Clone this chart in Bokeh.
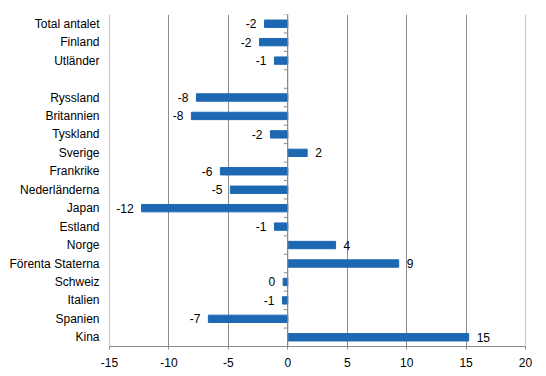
from bokeh.plotting import figure
from bokeh.models import ColumnDataSource, FixedTicker, Span, Range1d
from bokeh.embed import file_html
from bokeh.resources import INLINE

categories = ["Total antalet", "Finland", "Utländer", "", "Ryssland", "Britannien",
              "Tyskland", "Sverige", "Frankrike", "Nederländerna", "Japan", "Estland",
              "Norge", "Förenta Staterna", "Schweiz", "Italien", "Spanien", "Kina"]
values = [-1.96, -2.38, -1.12, None, -7.69, -8.11, -1.46, 1.63, -5.67, -4.83,
          -12.3, -1.12, 4.02, 9.33, -0.39, -0.45, -6.68, 15.22]
labels = ["-2", "-2", "-1", "", "-8", "-8", "-2", "2", "-6", "-5",
          "-12", "-1", "4", "9", "0", "-1", "-7", "15"]
x_ticks = [-15, -10, -5, 0, 5, 10, 15, 20]

BAR = "#1c68b2"
GRID = "#8c8c8c"
FONT = "Liberation Sans"

n = len(categories)
ys = [n - i - 0.5 for i in range(n)]

rows = [(y, v, l) for y, v, l in zip(ys, values, labels) if v is not None]
bars = ColumnDataSource(dict(y=[r[0] for r in rows], v=[r[1] for r in rows]))
neg = ColumnDataSource(dict(y=[r[0] for r in rows if r[1] < 0],
                            v=[r[1] for r in rows if r[1] < 0],
                            t=[r[2] for r in rows if r[1] < 0]))
pos = ColumnDataSource(dict(y=[r[0] for r in rows if r[1] >= 0],
                            v=[r[1] for r in rows if r[1] >= 0],
                            t=[r[2] for r in rows if r[1] >= 0]))

p = figure(width=538, height=371, output_backend="svg", toolbar_location=None,
           x_range=Range1d(x_ticks[0], x_ticks[-1]), y_range=Range1d(0, n),
           min_border_left=109, min_border_right=13, min_border_top=14,
           min_border_bottom=25)
p.outline_line_color = None
p.background_fill_color = "white"
p.border_fill_color = "white"

p.hbar(y="y", left=0, right="v", height=0.4, source=bars, color=BAR)

p.text(x="v", y="y", text="t", source=neg, text_align="right", text_baseline="middle",
       x_offset=-8, text_font_size="12px", text_font={"value": FONT}, text_color="black")
p.text(x="v", y="y", text="t", source=pos, text_align="left", text_baseline="middle",
       x_offset=8, text_font_size="12px", text_font={"value": FONT}, text_color="black")

# outer gridlines at range ends
for t in (x_ticks[0], x_ticks[-1]):
    p.add_layout(Span(location=t, dimension="height", line_color=GRID, line_width=1))

# zero axis with tick marks at category boundaries
p.add_layout(Span(location=0, dimension="height", line_color=GRID, line_width=1))
bounds = list(range(n + 1))
p.segment(x0=[0] * len(bounds), x1=[-0.34] * len(bounds), y0=bounds, y1=bounds,
          line_color=GRID, line_width=1)

p.xgrid.ticker = FixedTicker(ticks=x_ticks)
p.xgrid.grid_line_color = GRID
p.xgrid.grid_line_width = 1
p.ygrid.grid_line_color = None

xa = p.xaxis[0]
xa.ticker = FixedTicker(ticks=x_ticks)
xa.major_label_overrides = {t: str(t) for t in x_ticks}
xa.axis_line_color = GRID
xa.major_tick_line_color = GRID
xa.major_tick_out = 3
xa.major_tick_in = 0
xa.minor_tick_line_color = None
xa.major_label_text_font = FONT
xa.major_label_text_font_size = "12px"
xa.major_label_text_color = "black"
xa.major_label_standoff = 8

ya = p.yaxis[0]
ya.ticker = FixedTicker(ticks=ys)
ya.major_label_overrides = {y: c for y, c in zip(ys, categories)}
ya.axis_line_color = None
ya.major_tick_line_color = None
ya.minor_tick_line_color = None
ya.major_tick_out = 0
ya.major_tick_in = 0
ya.major_label_standoff = 10
ya.major_label_text_font = FONT
ya.major_label_text_font_size = "12px"
ya.major_label_text_color = "black"

open("out.html", "w").write(file_html(p, INLINE))
